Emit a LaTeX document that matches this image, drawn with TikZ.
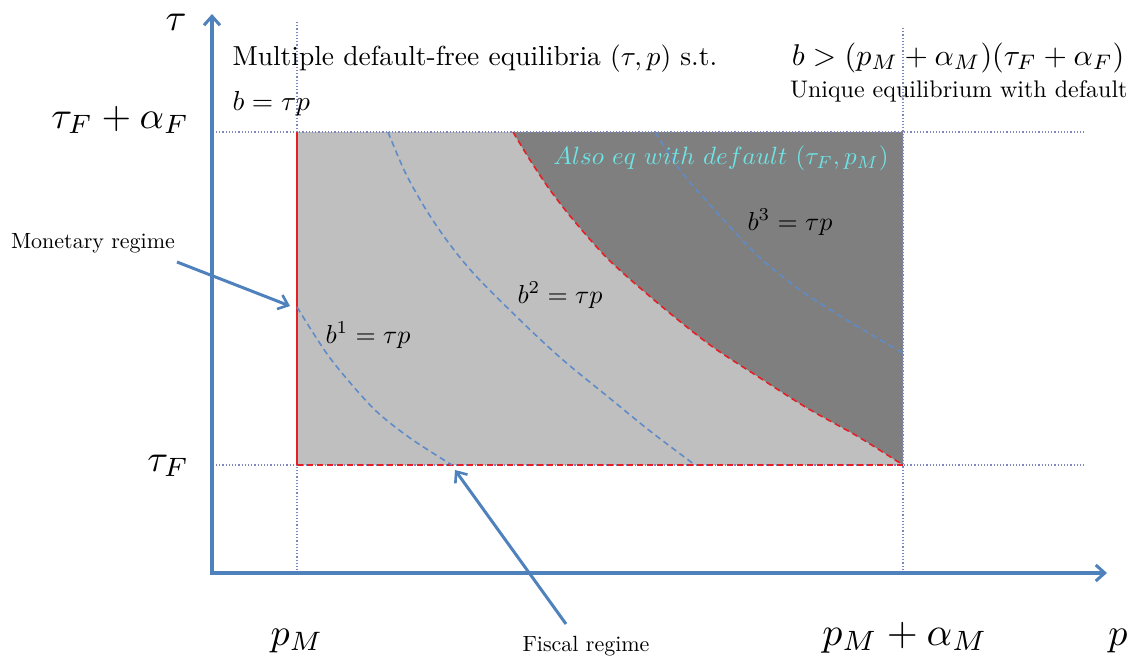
\documentclass[tikz,border=0pt]{standalone}
\usetikzlibrary{arrows.meta}
\definecolor{axisblue}{RGB}{79,129,189}
\definecolor{lgray}{RGB}{191,191,191}
\definecolor{dgray}{RGB}{127,127,127}
\definecolor{cyantext}{RGB}{110,228,228}
\definecolor{dotcol}{RGB}{125,135,190}
\definecolor{redline}{RGB}{228,32,38}
\definecolor{curveblue}{RGB}{95,140,200}
\tikzset{
  axisline/.style={draw=axisblue, line width=3.5pt, -{Straight Barb[length=9pt,width=16pt,line width=3pt]}},
  callout/.style={draw=axisblue, line width=3pt, -{Straight Barb[length=9pt,width=15pt,line width=2.6pt]}},
  guide/.style={draw=dotcol, line width=1.2pt, dotted},
  reddash/.style={draw=redline, line width=1.6pt, dash pattern=on 6pt off 4pt},
  bluedash/.style={draw=curveblue, line width=1.6pt, dash pattern=on 6pt off 4pt},
  biglbl/.style={font=\normalsize, scale=3.8, inner sep=0pt},
  titlelbl/.style={font=\normalsize, scale=2.75, inner sep=0pt},
  condlbl/.style={font=\normalsize, scale=3.0, inner sep=0pt},
  midlbl/.style={font=\normalsize, scale=2.4, inner sep=0pt},
  smalllbl/.style={font=\normalsize, scale=2.2, inner sep=0pt},
  curvelbl/.style={font=\normalsize, scale=2.6, inner sep=0pt},
  cyanlbl/.style={font=\normalsize, scale=2.5, inner sep=0pt, text=cyantext},
}
\begin{document}
\begin{tikzpicture}[x=1pt,y=-1pt]
\useasboundingbox (0,0) rectangle (1130,659);
% regions
\fill[lgray] (297,132) rectangle (903,465);
\fill[dgray] plot[smooth] coordinates {(513,132) (530,160) (550,190) (575,222) (610,261) (660,305) (710,345) (757,376) (807,408) (857,436) (903,465)} -- (903,132) -- cycle;
% guides
\draw[guide] (297,22) -- (297,573);
\draw[guide] (903,28) -- (903,573);
\draw[guide] (216,132) -- (1086,132);
\draw[guide] (216,465) -- (1086,465);
% borders
\draw[draw=redline, line width=1.4pt] (297,132) -- (297,465);
\draw[reddash] (297,465) -- (903,465);
\draw[reddash] plot[smooth] coordinates {(513,132) (530,160) (550,190) (575,222) (610,261) (660,305) (710,345) (757,376) (807,408) (857,436) (903,465)};
% iso-debt curves
\draw[bluedash] plot[smooth] coordinates {(297,307) (330,358) (373,408) (410,438) (452,465)};
\draw[bluedash] plot[smooth] coordinates {(388,132) (405,172) (425,208) (448,242) (475,275) (523,323) (563,360) (607,396) (650,431) (695,465)};
\draw[bluedash] plot[smooth] coordinates {(655,132) (680,170) (710,205) (757,255) (800,290) (850,322) (903,353)};
% axes
\coordinate (O) at (212,573);
\coordinate (ytip) at (212,14);
\coordinate (xtip) at (1107,573);
\draw[axisline] (212,575) -- (ytip);
\draw[axisline] (210,573) -- (xtip);
% axis labels
\node[biglbl] (tau) at (176,22) {$\tau$};
\node[biglbl, anchor=base east] (tauFa) at (190,128) {$\tau_F+\alpha_F$};
\node[biglbl, anchor=base east] (tauF) at (190,471) {$\tau_F$};
\node[biglbl, anchor=base] (pM) at (297,645) {$p_M$};
\node[biglbl, scale=1.05, anchor=base] (pMa) at (905,645) {$p_M+\alpha_M$};
\node[biglbl, anchor=base] (p) at (1118,645) {$p$};
% texts
\node[titlelbl, anchor=base west] (title) at (232,65) {Multiple default-free equilibria $(\tau,p)$ s.t.};
\node[condlbl, anchor=base east] (cond) at (1125,65) {$b>(p_M+\alpha_M)(\tau_F+\alpha_F)$};
\node[midlbl, anchor=base east] (unique) at (1128,97) {Unique equilibrium with default};
\node[titlelbl, anchor=base west] (bdef) at (232,110) {$b=\tau p$};
\node[cyanlbl] (also) at (721,158) {$Also\ eq\ with\ default\ (\tau_F,p_M)$};
\node[curvelbl] (b1) at (368,335) {$b^1=\tau p$};
\node[curvelbl] (b2) at (560,295) {$b^2=\tau p$};
\node[curvelbl] (b3) at (790,222) {$b^3=\tau p$};
% regimes
\node[smalllbl] (mon) at (93,243) {Monetary regime};
\node[smalllbl, anchor=base] (fis) at (586,651) {Fiscal regime};
\coordinate (monstart) at (177,262);
\coordinate (montip) at (290,306);
\coordinate (fisstart) at (566,624);
\coordinate (fistip) at (455,470);
\draw[callout] (monstart) -- (montip);
\draw[callout] (fisstart) -- (fistip);
\end{tikzpicture}
\end{document}
